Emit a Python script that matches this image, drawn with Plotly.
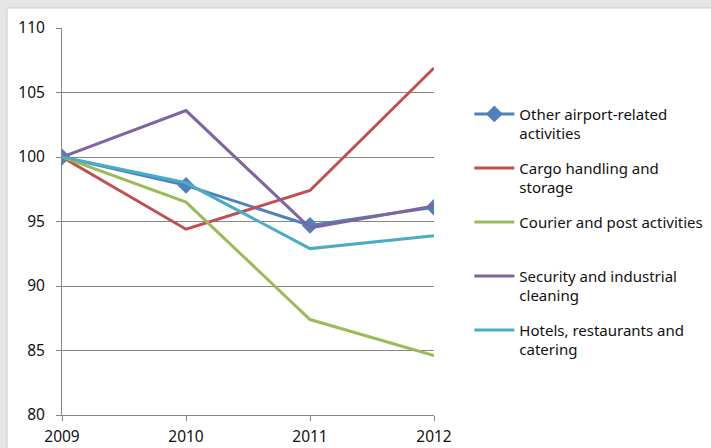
import plotly.graph_objects as go

years = ["2009", "2010", "2011", "2012"]
series_names = [
    "Other airport-related<br>activities",
    "Cargo handling and<br>storage",
    "Courier and post activities<br>&nbsp;",
    "Security and industrial<br>cleaning",
    "Hotels, restaurants and<br>catering",
]
other_airport = [100, 97.8, 94.7, 96.1]
cargo = [100, 94.4, 97.4, 106.9]
courier = [100, 96.5, 87.4, 84.6]
security = [100, 103.6, 94.5, 96.2]
hotels = [100, 98.0, 92.9, 93.9]
y_ticks = [80, 85, 90, 95, 100, 105, 110]

colors = ["#4F81BD", "#C0504D", "#9BBB59", "#8064A2", "#4BACC6"]
values = [other_airport, cargo, courier, security, hotels]

fig = go.Figure()
for i, (name, vals, col) in enumerate(zip(series_names, values, colors)):
    fig.add_trace(go.Scatter(
        x=years, y=vals, name=name,
        mode="lines+markers" if i == 0 else "lines",
        line=dict(color=col, width=3),
        marker=dict(symbol="diamond", size=13, color=col) if i == 0 else None,
        legendgroup=str(i),
    ))

FONT = "Noto Sans"
fig.update_layout(
    width=711, height=448,
    margin=dict(l=62, r=277, t=28, b=33, pad=0, autoexpand=False),
    paper_bgcolor="#E6E6E6",
    plot_bgcolor="white",
    font=dict(family=FONT, size=15, color="#111111"),
    showlegend=True,
    legend=dict(
        x=1.095, y=0.82, xanchor="left", yanchor="top",
        bgcolor="rgba(0,0,0,0)", valign="top",
        font=dict(family=FONT, size=15, color="#111111"),
        itemwidth=40, tracegroupgap=12,
    ),
    xaxis=dict(
        type="category", range=[0, 3],
        showgrid=False, showline=True, linecolor="#868686", linewidth=1,
        ticks="outside", ticklen=5, tickcolor="#868686",
        tickfont=dict(family=FONT, size=15.5, color="#111111"),
        ticklabelstandoff=2,
        zeroline=False, automargin=False,
    ),
    yaxis=dict(
        range=[80, 110], tickvals=y_ticks,
        showgrid=True, gridcolor="#868686", gridwidth=1,
        showline=True, linecolor="#868686", linewidth=1,
        ticks="outside", ticklen=5, tickcolor="#868686",
        tickfont=dict(family=FONT, size=15.5, color="#111111"),
        ticklabelstandoff=8,
        zeroline=False, automargin=False,
    ),
    shapes=[dict(
        type="rect", xref="paper", yref="paper", layer="below",
        x0=-0.1478, x1=1.75, y0=-0.1, y1=1.0517,
        fillcolor="white", line=dict(color="#CCCCCC", width=1),
    )],
)

fig.write_html(
    "out.html",
    config={"displayModeBar": False},
    post_script="document.body.style.margin='0';document.body.style.padding='0';",
)
